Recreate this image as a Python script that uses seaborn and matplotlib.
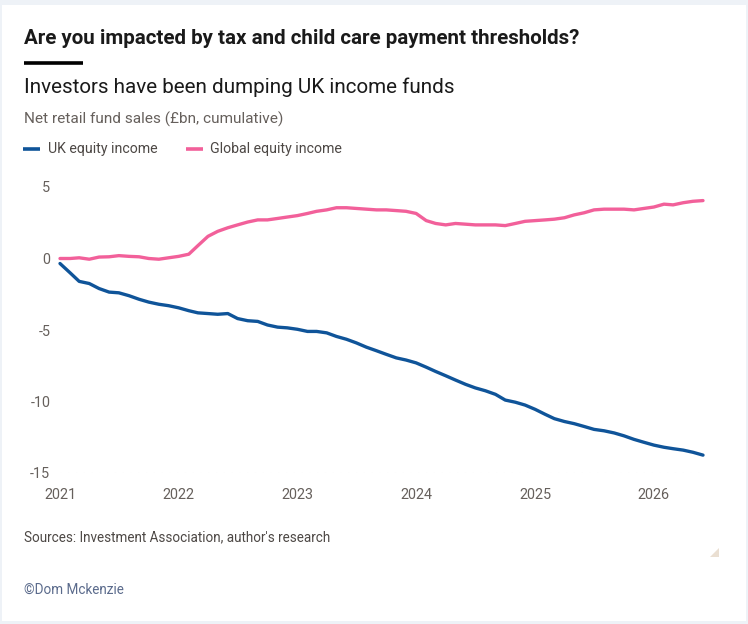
import numpy as np
import pandas as pd
import matplotlib
matplotlib.use("Agg")
import matplotlib.pyplot as plt
import matplotlib.dates as mdates
from matplotlib.patches import Rectangle, Polygon
from matplotlib.lines import Line2D
import seaborn as sns

# Monthly cumulative net retail fund sales (£bn)
dates = pd.date_range("2021-01-01", periods=66, freq="MS")

uk_equity_income = [
    -0.35, -1.0, -1.6, -1.75, -2.1, -2.35, -2.4, -2.6, -2.85, -3.05, -3.2, -3.3,
    -3.45, -3.65, -3.8, -3.85, -3.9, -3.85, -4.2, -4.35, -4.4, -4.65, -4.8, -4.85,
    -4.95, -5.1, -5.1, -5.2, -5.45, -5.65, -5.9, -6.2, -6.45, -6.7, -6.95, -7.1,
    -7.3, -7.6, -7.9, -8.2, -8.5, -8.8, -9.05, -9.25, -9.5, -9.9, -10.05, -10.25,
    -10.55, -10.9, -11.2, -11.4, -11.55, -11.75, -11.95, -12.05, -12.2, -12.4, -12.65, -12.85,
    -13.05, -13.2, -13.3, -13.4, -13.55, -13.75,
]
global_equity_income = [
    0.0, 0.0, 0.05, -0.05, 0.1, 0.12, 0.2, 0.15, 0.12, 0.0, -0.05, 0.05,
    0.15, 0.3, 0.9, 1.55, 1.9, 2.15, 2.35, 2.55, 2.7, 2.7, 2.8, 2.9,
    3.0, 3.15, 3.3, 3.4, 3.55, 3.55, 3.5, 3.45, 3.4, 3.4, 3.35, 3.3,
    3.15, 2.65, 2.45, 2.35, 2.45, 2.4, 2.35, 2.35, 2.35, 2.3, 2.45, 2.6,
    2.65, 2.7, 2.75, 2.85, 3.05, 3.2, 3.4, 3.45, 3.45, 3.45, 3.4, 3.5,
    3.6, 3.8, 3.75, 3.9, 4.0, 4.05,
]
series_names = ["UK equity income", "Global equity income"]
colors = ["#0f5499", "#f2609a"]
y_ticks = [-15, -10, -5, 0, 5]
x_tick_years = [2021, 2022, 2023, 2024, 2025, 2026]

df = pd.concat([
    pd.DataFrame({"date": dates, "value": uk_equity_income, "series": series_names[0]}),
    pd.DataFrame({"date": dates, "value": global_equity_income, "series": series_names[1]}),
])

sns.set_theme(style="white")
plt.rcParams["font.family"] = ["Roboto", "DejaVu Sans"]
plt.rcParams["axes.unicode_minus"] = False

W, H = 748, 624
fx = lambda px: px / W
fy = lambda py: 1 - py / H

fig = plt.figure(figsize=(W / 100, H / 100), dpi=100)
fig.patch.set_facecolor("#eef2f7")
# white card behind everything
fig.patches.append(Rectangle((fx(2), fy(621)), fx(746) - fx(2), (621 - 5) / H,
                             transform=fig.transFigure, facecolor="white", edgecolor="none", zorder=-10))

# header texts
fig.text(fx(24), fy(38), "Are you impacted by tax and child care payment thresholds?",
         fontsize=14.8, fontweight="bold", color="#1a1a1a", va="center", ha="left")
fig.add_artist(Line2D([fx(24), fx(83)], [fy(63), fy(63)], transform=fig.transFigure,
                      color="black", lw=2.6, solid_capstyle="butt"))
fig.text(fx(24), fy(87), "Investors have been dumping UK income funds",
         fontsize=14.9, color="#1a1a1a", va="center", ha="left")
fig.text(fx(24), fy(119), "Net retail fund sales (£bn, cumulative)",
         fontsize=11.1, color="#66605c", va="center", ha="left")

# legend
legend_x = [(23, 40, 48), (186, 203, 210)]
for (x0, x1, xt), name, c in zip(legend_x, series_names, colors):
    fig.add_artist(Line2D([fx(x0), fx(x1)], [fy(149), fy(149)], transform=fig.transFigure,
                          color=c, lw=2.6, solid_capstyle="butt"))
    fig.text(fx(xt), fy(149), name, fontsize=10.2, color="#4d4845", va="center", ha="left")

# chart
ax = fig.add_axes([fx(60), fy(473), fx(703) - fx(60), (473 - 187) / H])
ax.set_facecolor("none")
sns.lineplot(data=df, x="date", y="value", hue="series", palette=colors,
             linewidth=2.4, legend=False, ax=ax)
for line in ax.lines:
    line.set_clip_on(False)
    line.set_solid_joinstyle("round")

ax.set_xlim(dates[0], dates[-1])
ax.set_ylim(-15, 5)
ax.set_yticks(y_ticks)
ax.set_yticklabels([str(v) for v in y_ticks])
ax.set_xticks([pd.Timestamp(f"{y}-01-01") for y in x_tick_years])
ax.xaxis.set_major_formatter(mdates.DateFormatter("%Y"))
ax.tick_params(axis="both", length=0, labelsize=10.4, labelcolor="#66605c")
ax.tick_params(axis="y", pad=7)
ax.tick_params(axis="x", pad=11)
ax.set_xlabel("")
ax.set_ylabel("")
sns.despine(ax=ax, left=True, bottom=True)
ax.axhline(-15, color="#e4e4e4", lw=0.8, ls=(0, (1, 6)), zorder=0)

# footer
fig.text(fx(24), fy(537), "Sources: Investment Association, author's research",
         fontsize=9.75, color="#4d4845", va="center", ha="left")
fig.text(fx(24), fy(590), "©Dom Mckenzie",
         fontsize=9.75, color="#5b6b8c", va="center", ha="left")
fig.patches.append(Polygon([(fx(719), fy(548)), (fx(719), fy(557)), (fx(710), fy(557))],
                           closed=True, transform=fig.transFigure, facecolor="#eadfd2",
                           edgecolor="none"))

fig.savefig("out.png", dpi=100, facecolor=fig.get_facecolor())
